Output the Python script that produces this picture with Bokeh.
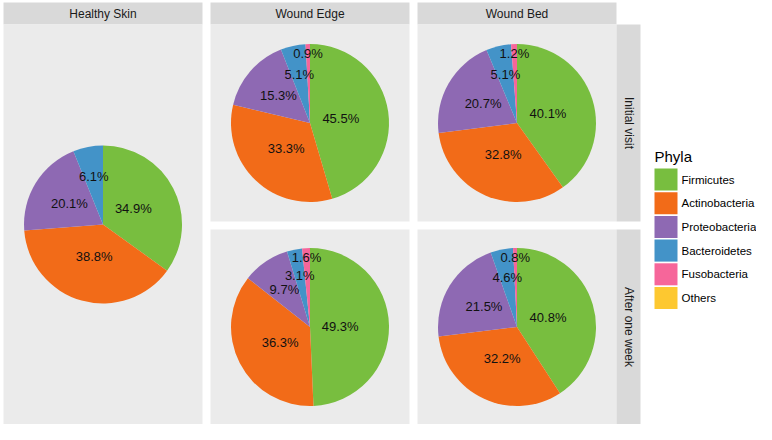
import math
from bokeh.plotting import figure
from bokeh.models import Range1d
from bokeh.core.properties import value
from bokeh.embed import file_html
from bokeh.resources import INLINE

# ---------------- data ----------------
phyla = ["Firmicutes", "Actinobacteria", "Proteobacteria", "Bacteroidetes", "Fusobacteria", "Others"]
colors = ["#78BE3F", "#F26B18", "#8E69B3", "#4393C8", "#F6669A", "#FDC830"]
sites = ["Healthy Skin", "Wound Edge", "Wound Bed"]
visits = ["Initial visit", "After one week"]
healthy_skin = [34.9, 38.8, 20.1, 6.1, 0.0, 0.0]
edge_initial = [45.5, 33.3, 15.3, 5.1, 0.9, 0.0]
edge_week = [49.3, 36.3, 9.7, 3.1, 1.6, 0.0]
bed_initial = [40.1, 32.8, 20.7, 5.1, 1.2, 0.0]
bed_week = [40.8, 32.2, 21.5, 4.6, 0.8, 0.0]

# ---------------- layout (pixels, y measured downward) ----------------
W, H = 756, 424
FONT = value("Liberation Sans")
STRIP_FILL = "#D9D9D9"
PANEL_FILL = "#EBEBEB"
STRIP_TXT = "#1A1A1A"

cols = {"Healthy Skin": (3, 202), "Wound Edge": (210, 409), "Wound Bed": (417, 616)}
strip_y = (2, 24)
rows = {"Initial visit": (24, 221), "After one week": (229, 424)}
rstrip_x = (616, 640)

p = figure(width=W, height=H, x_range=Range1d(0, W), y_range=Range1d(0, H),
           output_backend="svg", toolbar_location=None, min_border=0,
           x_axis_type=None, y_axis_type=None, outline_line_color=None,
           background_fill_color="white", border_fill_color="white")
p.grid.visible = False


def Y(yd):
    return H - yd


def box(x0, x1, y0, y1, color):
    p.quad(left=x0, right=x1, top=Y(y0), bottom=Y(y1), fill_color=color, line_color=None)


def pie(cx, cy, vals):
    total = sum(vals)
    c = 0.0
    r = 79
    starts, ends, fills = [], [], []
    lx, ly, lt = [], [], []
    for v, col in zip(vals, colors):
        if v <= 0:
            continue
        s = c / total
        e = (c + v) / total
        starts.append(math.pi / 2 - 2 * math.pi * s)
        ends.append(math.pi / 2 - 2 * math.pi * e)
        fills.append(col)
        share = v / total
        if share < 0.02:
            rf = 0.88
        else:
            rf = 0.38 + 0.5 * (1 - (share / 0.5) ** 0.3)
        mid = math.pi / 2 - 2 * math.pi * (s + e) / 2
        lx.append(cx + rf * r * math.cos(mid))
        ly.append(Y(cy) + rf * r * math.sin(mid))
        lt.append(f"{v:.1f}%")
        c += v
    p.wedge(x=[cx] * len(starts), y=[Y(cy)] * len(starts), radius=r,
            start_angle=starts, end_angle=ends, direction="clock",
            fill_color=fills, line_color=None)
    p.text(x=lx, y=ly, text=lt, text_align="center", text_baseline="middle",
           text_font=FONT, text_font_size="13px", text_color="#111111")


# strips on top
for name, (x0, x1) in cols.items():
    box(x0, x1, strip_y[0], strip_y[1], STRIP_FILL)
    p.text(x=[(x0 + x1) / 2], y=[Y((strip_y[0] + strip_y[1]) / 2)], text=[name],
           text_align="center", text_baseline="middle", text_font=FONT,
           text_font_size="12px", text_color=STRIP_TXT)

# Healthy Skin panel spanning both rows
hx0, hx1 = cols["Healthy Skin"]
box(hx0, hx1, rows["Initial visit"][0], rows["After one week"][1], PANEL_FILL)
pie((hx0 + hx1) / 2, (rows["Initial visit"][0] + rows["After one week"][1]) / 2, healthy_skin)

panel_data = {
    ("Wound Edge", "Initial visit"): edge_initial,
    ("Wound Edge", "After one week"): edge_week,
    ("Wound Bed", "Initial visit"): bed_initial,
    ("Wound Bed", "After one week"): bed_week,
}
for (site, visit), vals in panel_data.items():
    x0, x1 = cols[site]
    y0, y1 = rows[visit]
    box(x0, x1, y0, y1, PANEL_FILL)
    pie((x0 + x1) / 2, (y0 + y1) / 2, vals)

# right strips
for visit, (y0, y1) in rows.items():
    box(rstrip_x[0], rstrip_x[1], y0, y1, STRIP_FILL)
    p.text(x=[(rstrip_x[0] + rstrip_x[1]) / 2], y=[Y((y0 + y1) / 2)], text=[visit],
           angle=-math.pi / 2, text_align="center", text_baseline="middle",
           text_font=FONT, text_font_size="12px", text_color=STRIP_TXT)

# legend
lx0 = 654
p.text(x=[lx0], y=[Y(156)], text=["Phyla"], text_align="left", text_baseline="middle",
       text_font=FONT, text_font_size="15px", text_color="#000000")
key_top = 168
pitch = 23.7
for i, (name, col) in enumerate(zip(phyla, colors)):
    t = key_top + i * pitch
    box(lx0, lx0 + 23, t, t + 22, col)
    p.text(x=[lx0 + 27], y=[Y(t + 11)], text=[name], text_align="left",
           text_baseline="middle", text_font=FONT, text_font_size="11.5px",
           text_color="#000000")

open("out.html", "w").write(file_html(p, INLINE))
